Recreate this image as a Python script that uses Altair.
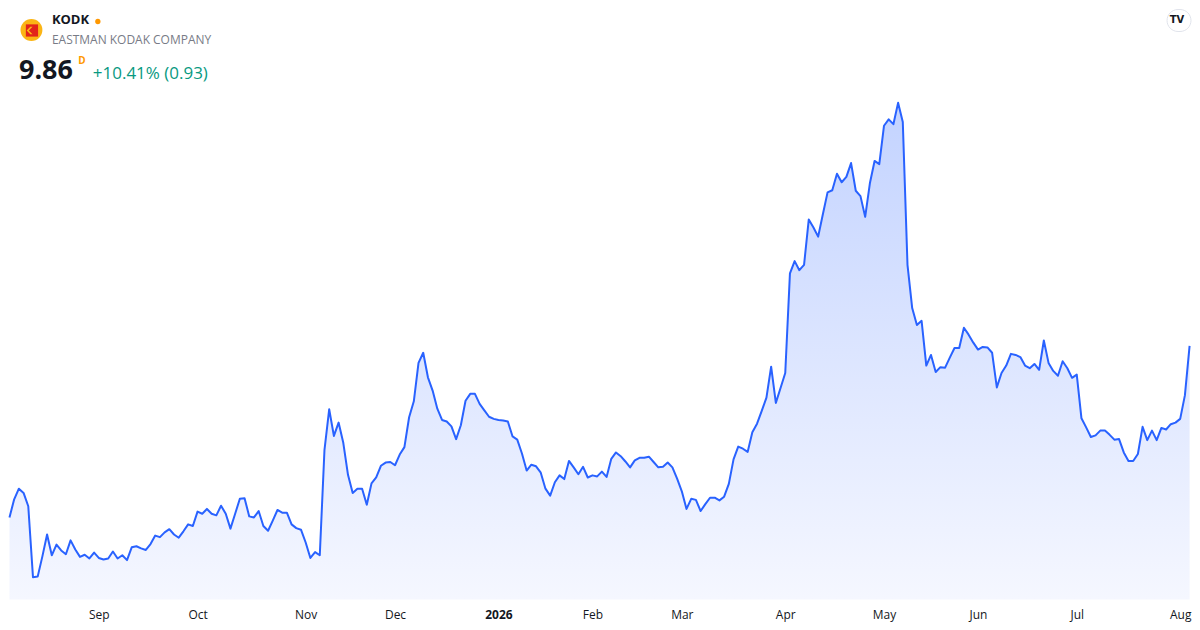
import altair as alt
import pandas as pd

# Daily closes (trading-day index)
prices = [6.64, 6.98, 7.18, 7.10, 6.85, 5.52, 5.53, 5.91, 6.32, 5.93,
          6.13, 6.02, 5.95, 6.21, 6.04, 5.90, 5.94, 5.87, 5.98, 5.88,
          5.85, 5.87, 6.00, 5.87, 5.93, 5.84, 6.08, 6.10, 6.06, 6.03,
          6.14, 6.30, 6.27, 6.36, 6.42, 6.32, 6.26, 6.38, 6.51, 6.48,
          6.75, 6.71, 6.80, 6.71, 6.68, 6.86, 6.71, 6.43, 6.71, 6.99,
          7.00, 6.66, 6.64, 6.76, 6.48, 6.39, 6.58, 6.78, 6.73, 6.73,
          6.51, 6.44, 6.41, 6.17, 5.88, 5.99, 5.93, 7.91, 8.67, 8.17,
          8.42, 8.04, 7.44, 7.10, 7.18, 7.18, 6.88, 7.28, 7.39, 7.61,
          7.67, 7.68, 7.62, 7.82, 7.96, 8.52, 8.82, 9.54, 9.73, 9.27,
          9.02, 8.68, 8.47, 8.44, 8.35, 8.11, 8.37, 8.83, 8.96, 8.96,
          8.77, 8.65, 8.53, 8.49, 8.47, 8.46, 8.44, 8.16, 8.10, 7.84,
          7.52, 7.63, 7.60, 7.48, 7.18, 7.05, 7.30, 7.43, 7.36, 7.70,
          7.58, 7.45, 7.59, 7.39, 7.43, 7.41, 7.50, 7.40, 7.74, 7.86,
          7.79, 7.69, 7.58, 7.71, 7.76, 7.76, 7.78, 7.68, 7.58, 7.59,
          7.67, 7.58, 7.37, 7.13, 6.80, 6.99, 6.97, 6.76, 6.89, 7.01,
          7.01, 6.96, 7.03, 7.27, 7.73, 7.97, 7.93, 7.87, 8.24, 8.40,
          8.64, 8.89, 9.47, 8.79, 9.07, 9.35, 11.22, 11.45, 11.28, 11.38,
          12.23, 12.08, 11.91, 12.33, 12.74, 12.78, 13.09, 12.93, 13.03, 13.29,
          12.77, 12.67, 12.28, 12.91, 13.33, 13.27, 13.99, 14.11, 14.02, 14.42,
          14.06, 11.38, 10.57, 10.25, 10.33, 9.49, 9.69, 9.37, 9.46, 9.45,
          9.64, 9.82, 9.82, 10.20, 10.07, 9.92, 9.79, 9.84, 9.83, 9.73,
          9.08, 9.35, 9.49, 9.71, 9.69, 9.65, 9.49, 9.44, 9.52, 9.41,
          9.96, 9.54, 9.39, 9.30, 9.57, 9.44, 9.26, 9.32, 8.50, 8.33,
          8.15, 8.18, 8.27, 8.27, 8.19, 8.10, 8.11, 7.86, 7.70, 7.70,
          7.83, 8.34, 8.09, 8.27, 8.09, 8.32, 8.29, 8.39, 8.42, 8.49,
          8.93, 9.86]

# Month tick positions (bar index of first trading day) and labels
tick_index = [19, 40, 63, 82, 104, 124, 143, 165, 186, 206, 227, 249]
tick_labels = ["Sep", "Oct", "Nov", "Dec", "2026", "Feb", "Mar", "Apr",
               "May", "Jun", "Jul", "Aug"]

df = pd.DataFrame({"i": list(range(len(prices))), "p": prices})

Y_MIN, Y_MAX = 5.10, 16.19
FONT = "Open Sans"

label_expr = "[" + ",".join(f"'{s}'" for s in tick_labels) + "][indexof([" + \
    ",".join(str(v) for v in tick_index) + "], datum.value)]"

x_enc = alt.X(
    "i:Q",
    scale=alt.Scale(domain=[-0.1, 251.3], nice=False, zero=False),
    axis=alt.Axis(
        values=tick_index, labelExpr=label_expr, grid=False, ticks=False,
        domain=False, title=None, labelFont=FONT, labelFontSize=12,
        labelColor="#131722", labelPadding=10, labelOverlap=False,
        labelBound=False,
        labelFontWeight={"condition": {"test": "datum.value == 104", "value": "bold"},
                         "value": "normal"},
    ),
)
y_enc = alt.Y("p:Q", scale=alt.Scale(domain=[Y_MIN, Y_MAX], nice=False, zero=False),
              axis=None)

grad = alt.Gradient(
    gradient="linear",
    stops=[alt.GradientStop(color="#C3D3FF", offset=0),
           alt.GradientStop(color="#F5F7FF", offset=1)],
    x1=0, x2=0, y1=0, y2=1,
)

area = alt.Chart(df).mark_area(color=grad).encode(x=x_enc, y=y_enc, y2=alt.datum(Y_MIN))
line = alt.Chart(df).mark_line(color="#2962FF", strokeWidth=2, strokeJoin="round").encode(
    x=x_enc, y=y_enc)

one = alt.Data(values=[{"a": 1}])


def txt(s, x, y, size, color, weight="normal", align="left", font=FONT):
    return alt.Chart(one).mark_text(
        text=s, fontSize=size, color=color, fontWeight=weight, align=align,
        baseline="middle", font=font
    ).encode(x=alt.value(x), y=alt.value(y))


def sym(shape, x, y, size, color):
    return alt.Chart(one).mark_point(
        shape=shape, filled=True, size=size, color=color, opacity=1, strokeWidth=0
    ).encode(x=alt.value(x), y=alt.value(y))


layers = [
    area, line,
    # logo
    sym("circle", 22.5, 21.5, 480, "#FBB515"),
    sym("square", 23, 22, 150, "#E2231A"),
    sym("M 0.7 -1 L -0.3 0 L 0.7 1 L 0.1 1 L -0.9 0 L 0.1 -1 Z", 21, 22, 55, "#FBB515"),
    txt("KODK", 43, 12, 13, "#131722", "bold"),
    sym("circle", 89, 13, 28, "#FF9800"),
    txt("EASTMAN KODAK COMPANY", 43, 32, 12, "#787B86"),
    txt("9.86", 10, 63, 27, "#131722", "bold"),
    txt("D", 73, 53, 10, "#FF9800", "bold", "center"),
    txt("+10.41% (0.93)", 84, 66, 17, "#089981"),
    # TradingView badge
    alt.Chart(one).mark_rect(fill="white", stroke="#E0E3EB", cornerRadius=11).encode(
        x=alt.value(1160), x2=alt.value(1184), y=alt.value(1), y2=alt.value(23)),
    txt("TV", 1170, 12, 10, "#131722", "bold", "center", "DejaVu Sans"),
]

chart = alt.layer(*layers).properties(
    width=1184, height=592,
    padding={"left": 0, "top": 0, "right": 0, "bottom": 4},
    background="white"
).configure_view(stroke=None)

chart.save("out.html", embed_options={"renderer": "svg", "actions": False})
